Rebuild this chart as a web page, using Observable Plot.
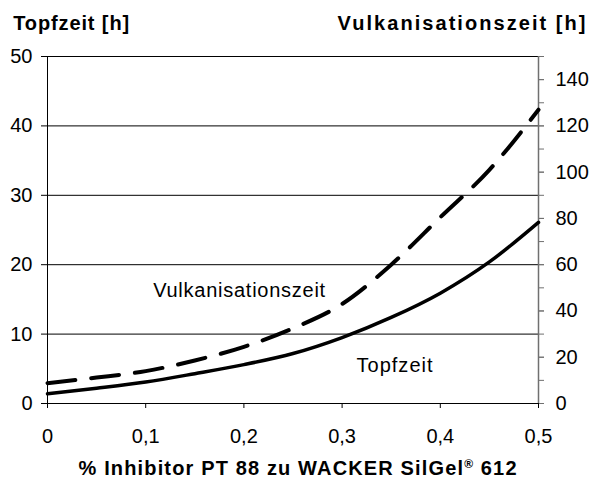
<!DOCTYPE html>
<html><head><meta charset="utf-8">
<script src="https://cdn.jsdelivr.net/npm/d3@7"></script>
<script src="https://cdn.jsdelivr.net/npm/@observablehq/plot@0.6"></script>
<style>html,body{margin:0;padding:0;background:#fff;}</style>
</head><body><div id="chart"></div>
<script>
// % inhibitor PT 88
const inhibitor = [0, 0.05, 0.1, 0.15, 0.2, 0.25, 0.3, 0.35, 0.4, 0.45, 0.5];
// Topfzeit [h] (left axis)
const topfzeit = [1.4, 2.2, 3.1, 4.3, 5.6, 7.2, 9.5, 12.4, 15.9, 20.4, 26.1];
// Vulkanisationszeit [h] (right axis)
const vulkanisationszeit = [8.8, 11.2, 14.0, 18.6, 24.5, 32.5, 43, 60, 80.5, 101, 127];

const xTicks = [0, 0.1, 0.2, 0.3, 0.4, 0.5];
const leftTicks = [0, 10, 20, 30, 40, 50];
const rightTicks = [0, 20, 40, 60, 80, 100, 120, 140];
const rightMinorTicks = [0, 10, 20, 30, 40, 50, 60, 70, 80, 90, 100, 110, 120, 130, 140, 150];
const rightFactor = 3; // right axis 0–150 against left axis 0–50

const leftTitle = "Topfzeit [h]";
const rightTitle = "Vulkanisationszeit [h]";
const xTitle = "% Inhibitor PT 88 zu WACKER SilGel® 612";
const labelText = ["Vulkanisationszeit", "Topfzeit"];
const labelX = [0.1076, 0.3147];
const labelY = [16.2, 5.4];

const rows = inhibitor.map((x, i) => ({x, topf: topfzeit[i], vulk: vulkanisationszeit[i]}));
const labels = labelText.map((t, i) => ({t, x: labelX[i], y: labelY[i]}));

const chart = Plot.plot({
  width: 592, height: 487,
  marginLeft: 47, marginRight: 54, marginTop: 56, marginBottom: 84,
  style: {fontFamily: "'Liberation Sans', Arial, sans-serif", fontSize: "20px", color: "#000", background: "#fff", overflow: "visible"},
  x: {domain: [0, 0.5]},
  y: {domain: [0, 50]},
  marks: [
    Plot.gridY(leftTicks.slice(1), {stroke: "#000", strokeOpacity: 1, strokeWidth: 1}),
    Plot.axisY(leftTicks, {anchor: "left", tickSize: 6, tickPadding: 9, label: null, tickFormat: d => String(d)}),
    Plot.axisY(rightMinorTicks.map(v => v / rightFactor), {anchor: "right", tickSize: 5, tickFormat: () => "", label: null, stroke: "#707070"}),
    Plot.axisY(rightTicks.map(v => v / rightFactor), {anchor: "right", tickSize: 5, tickPadding: 12, label: null, stroke: "#707070", tickFormat: d => String(Math.round(d * rightFactor))}),
    Plot.axisX(xTicks, {anchor: "bottom", tickSize: 5, tickPadding: 20, label: null, tickFormat: d => String(d).replace(".", ",")}),
    Plot.ruleX([0], {stroke: "#000", strokeWidth: 1}),
    Plot.ruleY([0], {stroke: "#000", strokeWidth: 1}),
    Plot.ruleX([0.5], {stroke: "#707070", strokeWidth: 1.5}),
    Plot.line(rows, {x: "x", y: "topf", stroke: "#000", strokeWidth: 3.5, curve: "monotone-x"}),
    Plot.line(rows, {x: "x", y: d => d.vulk / rightFactor, stroke: "#000", strokeWidth: 4, strokeDasharray: "28,16", curve: "monotone-x"}),
    Plot.text(labels, {x: "x", y: "y", text: "t", textAnchor: "start", fontSize: 20, fill: "#000"}),
    Plot.text([leftTitle], {frameAnchor: "top-left", dx: -34.3, dy: -27, lineAnchor: "bottom", textAnchor: "start", fontWeight: "bold", fontSize: 20, fill: "#000"}),
    Plot.text([rightTitle], {frameAnchor: "top-right", dx: 47, dy: -27, lineAnchor: "bottom", textAnchor: "end", fontWeight: "bold", fontSize: 20, fill: "#000"}),
    Plot.text([xTitle], {frameAnchor: "bottom", dx: 4.5, dy: 71, lineAnchor: "bottom", textAnchor: "middle", fontWeight: "bold", fontSize: 20, fill: "#000"})
  ]
});

const lengths = {"Topfzeit [h]": 116, "Vulkanisationszeit [h]": 248, "Vulkanisationszeit": 172, "Topfzeit": 76};
chart.querySelectorAll("text").forEach(t => {
  const s = t.textContent;
  if (lengths[s]) { t.setAttribute("textLength", lengths[s]); t.setAttribute("lengthAdjust", "spacing"); }
  if (s === xTitle) {
    const ns = "http://www.w3.org/2000/svg";
    while (t.firstChild) t.removeChild(t.firstChild);
    t.appendChild(document.createTextNode("% Inhibitor PT 88 zu WACKER SilGel"));
    const sup = document.createElementNS(ns, "tspan");
    sup.setAttribute("baseline-shift", "super");
    sup.setAttribute("font-size", "12");
    sup.textContent = "®";
    t.appendChild(sup);
    const rest = document.createElementNS(ns, "tspan");
    rest.textContent = " 612";
    t.appendChild(rest);
    t.setAttribute("textLength", 438);
    t.setAttribute("lengthAdjust", "spacing");
  }
});
document.getElementById("chart").appendChild(chart);
</script>
</body></html>
